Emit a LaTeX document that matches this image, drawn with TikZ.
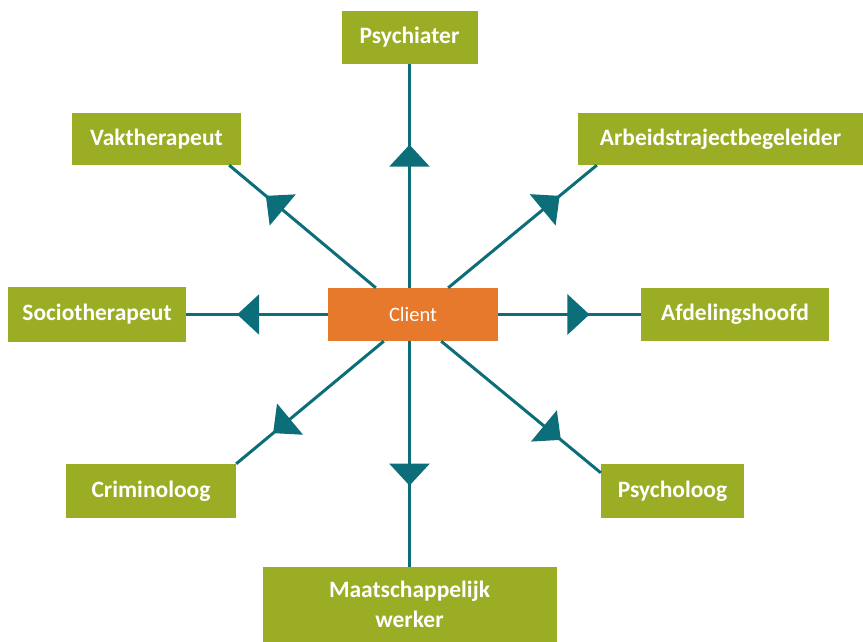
\documentclass[tikz,border=0pt]{standalone}
\usepackage{fontspec}
\setmainfont{Carlito}
\usepackage{tikz}
\usetikzlibrary{arrows.meta,decorations.markings}
\definecolor{olivegreen}{RGB}{154,173,36}
\definecolor{clientorange}{RGB}{231,121,45}
\definecolor{darkteal}{RGB}{12,110,120}
\tikzset{
  role/.style={fill=olivegreen, text=white, align=center, inner sep=0pt,
               font=\bfseries\fontsize{23.5}{30}\selectfont},
  centre/.style={fill=clientorange, text=white, align=center, inner sep=0pt,
                 minimum width=170pt, minimum height=53pt,
                 font=\fontsize{20.5}{24}\selectfont},
  link/.style={draw=darkteal, line width=3pt,
               postaction={decorate},
               decoration={markings,
                 mark=at position #1 with {\arrow[darkteal]{Triangle[width=40pt,length=22pt]}}}},
  link/.default=0.64
}
\begin{document}
\begin{tikzpicture}[x=1pt, y=1pt]
  \useasboundingbox (0,0) rectangle (863,-642);
  \node[centre] (client) at (413,-314.5) {Client};
  \node[role, minimum width=136pt, minimum height=53pt] (psych) at (409.5,-37.5) {Psychiater};
  \node[role, minimum width=169pt, minimum height=52pt] (vak) at (156.5,-139) {Vaktherapeut};
  \node[role, minimum width=285pt, minimum height=52pt] (arb) at (720.5,-139) {Arbeidstrajectbegeleider};
  \node[role, minimum width=178pt, minimum height=55pt] (socio) at (97,-314.5) {Sociotherapeut};
  \node[role, minimum width=188pt, minimum height=53pt] (afd) at (735,-314.5) {Afdelingshoofd};
  \node[role, minimum width=170pt, minimum height=54pt] (crim) at (151,-491) {Criminoloog};
  \node[role, minimum width=143pt, minimum height=54pt] (psyl) at (672.5,-491) {Psycholoog};
  \node[role, minimum width=294pt, minimum height=75pt] (maat) at (409.5,-604.5) {Maatschappelijk\\werker};
  % spokes from the client outwards
  \draw[link] (client.north -| psych.south) -- (psych.south);
  \draw[link] (client.south -| maat.north) -- (maat.north);
  \draw[link] (client.west) -- (socio.east);
  \draw[link] (client.east) -- (afd.west);
  \draw[link=0.75] ([xshift=48pt]client.north west) -- ([xshift=-12pt]vak.south east);
  \draw[link=0.75] ([xshift=-50pt]client.north east) -- ([xshift=19pt]arb.south west);
  \draw[link=0.75] ([xshift=56pt]client.south west) -- (crim.north east);
  \draw[link=0.75] ([xshift=-57pt]client.south east) -- ([yshift=-9pt]psyl.north west);
\end{tikzpicture}
\end{document}
